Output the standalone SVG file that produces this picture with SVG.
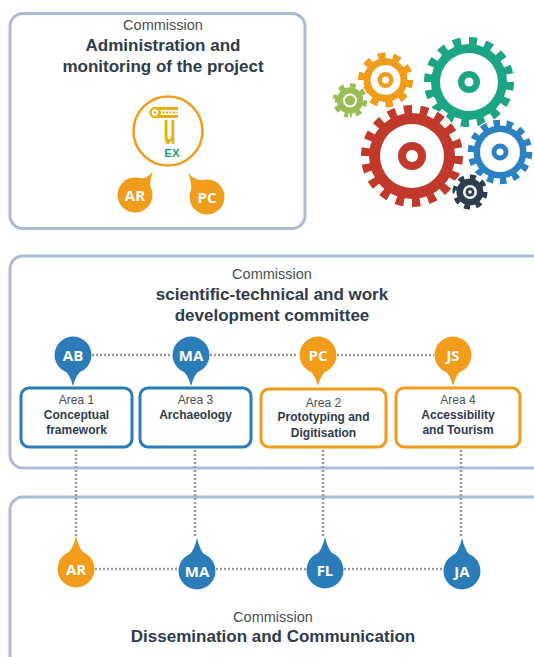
<svg xmlns="http://www.w3.org/2000/svg" width="534" height="657" viewBox="0 0 534 657">
  <style>
    .frame { fill: #ffffff; stroke: #a8bdd4; stroke-width: 3; }
    .kicker { font-family: "Liberation Sans", Arial, sans-serif; font-size: 14.5px; fill: #4a4f55; text-anchor: middle; }
    .title { font-family: "Liberation Sans", Arial, sans-serif; font-size: 17px; font-weight: bold; fill: #2e3b4b; text-anchor: middle; }
    .area { fill: #ffffff; stroke-width: 3; }
    .area.blue { stroke: #2b7cb8; }
    .area.orange { stroke: #f29c1b; }
    .area-num { font-family: "Liberation Sans", Arial, sans-serif; font-size: 12px; fill: #4a4f55; text-anchor: middle; }
    .area-name { font-family: "Liberation Sans", Arial, sans-serif; font-size: 12px; font-weight: bold; fill: #2e3b4b; text-anchor: middle; }
    .pin-blue { fill: #2b7cb8; }
    .pin-orange { fill: #f29c1b; }
    .initials { font-family: "Open Sans", "DejaVu Sans", sans-serif; font-size: 15px; font-weight: bold; fill: #ffffff; text-anchor: middle; }
    .dots { stroke: #9c9c9c; stroke-width: 2.5; stroke-dasharray: 2 2; fill: none; }
    .gear-back { fill: #ffffff; }
  </style>
  <defs>
    <!-- pin spout pointing down / up, drawn relative to the pin centre -->
    <path id="spout-down" d="M-10,14 Q-3,19 0,31 Q3,19 10,14 Z"/>
    <path id="spout-up" d="M-10,-14 Q-3,-19 0,-33 Q3,-19 10,-14 Z"/>
  </defs>

  <!-- ===== Administration commission ===== -->
  <g id="admin-commission">
    <rect class="frame" x="10" y="13.5" width="295" height="215" rx="13"/>
    <text class="kicker" x="163" y="29.5">Commission</text>
    <text class="title" x="163" y="51">Administration and</text>
    <text class="title" x="163" y="72">monitoring of the project</text>
  </g>

  <g id="uex-logo">
    <circle cx="168" cy="131" r="34.5" fill="#ffffff" stroke="#f29c1b" stroke-width="2.5"/>
    <!-- column capital -->
    <rect x="155" y="107" width="23" height="3" fill="#e6b116"/>
    <rect x="155" y="115" width="23" height="3" fill="#e6b116"/>
    <line x1="159" y1="112.5" x2="178" y2="112.5" stroke="#e6b116" stroke-width="2" stroke-dasharray="2 1.5"/>
    <circle cx="155" cy="112.5" r="4.5" fill="#ffffff" stroke="#e6b116" stroke-width="2.5"/>
    <circle cx="155" cy="112.5" r="1.2" fill="#e6b116"/>
    <!-- shaft: tall letter u -->
    <text x="0" y="0" transform="translate(169.5,144) scale(1,2.2)" font-family="'Liberation Sans', Arial, sans-serif" font-size="20" font-weight="bold" fill="#e6b116" text-anchor="middle">u</text>
    <text x="172" y="156.5" font-family="'Liberation Sans', Arial, sans-serif" font-size="11.5" font-weight="bold" fill="#1c9c78" text-anchor="middle">EX</text>
  </g>

  <g id="pin-admin-ar">
    <circle class="pin-orange" cx="135" cy="195" r="17.5"/>
    <path class="pin-orange" d="M137.4,178.2 Q146,180 153,171.5 Q149,182 150.8,188.6 Z"/>
    <text class="initials" x="135" y="200.5">AR</text>
  </g>
  <g id="pin-admin-pc">
    <circle class="pin-orange" cx="207" cy="197" r="17.5"/>
    <path class="pin-orange" d="M204.5,180.2 Q194,181 188,172.5 Q192,183 191.2,190.7 Z"/>
    <text class="initials" x="207" y="202.5">PC</text>
  </g>

  <!-- ===== Gears ===== -->
  <g id="gears">
    <g id="gear-teal">
      <circle class="gear-back" cx="469" cy="82" r="46"/>
      <circle cx="469" cy="82" r="41" fill="none" stroke="#1ba584" stroke-width="8" pathLength="32" stroke-dasharray="1 1"/>
      <circle cx="469" cy="82" r="38" fill="#1ba584"/>
      <circle cx="469" cy="82" r="29" fill="#ffffff"/>
      <circle cx="469" cy="82" r="11" fill="#1ba584"/>
      <circle cx="469" cy="82" r="4.5" fill="#ffffff"/>
    </g>
    <g id="gear-red">
      <circle class="gear-back" cx="412" cy="156" r="52"/>
      <circle cx="412" cy="156" r="46.5" fill="none" stroke="#c0392b" stroke-width="9" pathLength="36" stroke-dasharray="1 1"/>
      <circle cx="412" cy="156" r="43" fill="#c0392b"/>
      <circle cx="412" cy="156" r="32" fill="#ffffff"/>
      <circle cx="412" cy="156" r="14" fill="#c0392b"/>
      <circle cx="412" cy="156" r="6" fill="#ffffff"/>
    </g>
    <g id="gear-blue">
      <circle class="gear-back" cx="500" cy="152" r="33.5"/>
      <circle cx="500" cy="152" r="29" fill="none" stroke="#2b82c0" stroke-width="6.5" pathLength="28" stroke-dasharray="1 1"/>
      <circle cx="500" cy="152" r="26.5" fill="#2b82c0"/>
      <circle cx="500" cy="152" r="20" fill="#ffffff"/>
      <circle cx="500" cy="152" r="8.5" fill="#2b82c0"/>
      <circle cx="500" cy="152" r="3.5" fill="#ffffff"/>
    </g>
    <g id="gear-orange">
      <circle class="gear-back" cx="385.5" cy="80" r="29"/>
      <circle cx="385.5" cy="80" r="24.5" fill="none" stroke="#f29c1b" stroke-width="6" pathLength="20" stroke-dasharray="1 1"/>
      <circle cx="385.5" cy="80" r="22" fill="#f29c1b"/>
      <circle cx="385.5" cy="80" r="15" fill="#ffffff"/>
      <circle cx="385.5" cy="80" r="8" fill="#f29c1b"/>
      <circle cx="385.5" cy="80" r="3.5" fill="#ffffff"/>
    </g>
    <g id="gear-green">
      <circle class="gear-back" cx="350" cy="100.5" r="18.5"/>
      <circle cx="350" cy="100.5" r="15" fill="none" stroke="#9bbd57" stroke-width="4.5" pathLength="16" stroke-dasharray="1 1"/>
      <circle cx="350" cy="100.5" r="13.2" fill="#9bbd57"/>
      <circle cx="350" cy="100.5" r="7" fill="#ffffff"/>
      <circle cx="350" cy="100.5" r="5" fill="#9bbd57"/>
    </g>
    <g id="gear-dark">
      <circle class="gear-back" cx="470" cy="192" r="19"/>
      <circle cx="470" cy="192" r="15.3" fill="none" stroke="#2c3e50" stroke-width="4.5" pathLength="16" stroke-dasharray="1 1"/>
      <circle cx="470" cy="192" r="13.5" fill="#2c3e50"/>
      <circle cx="470" cy="192" r="7" fill="#ffffff"/>
      <circle cx="470" cy="192" r="4.5" fill="#2c3e50"/>
      <circle cx="470" cy="192" r="1.8" fill="#ffffff"/>
    </g>
  </g>

  <!-- ===== Scientific-technical commission ===== -->
  <g id="science-commission">
    <rect class="frame" x="10" y="256" width="560" height="212" rx="13"/>
    <text class="kicker" x="272" y="279">Commission</text>
    <text class="title" x="272" y="299.5">scientific-technical and work</text>
    <text class="title" x="272" y="321">development committee</text>
  </g>

  <!-- ===== Dissemination commission ===== -->
  <g id="dissemination-commission">
    <rect class="frame" x="10" y="497" width="560" height="200" rx="13"/>
    <text class="kicker" x="273" y="622">Commission</text>
    <text class="title" x="273" y="642">Dissemination and Communication</text>
  </g>

  <!-- ===== Connectors ===== -->
  <g id="connectors">
    <line class="dots" x1="92" y1="355" x2="172" y2="355"/>
    <line class="dots" x1="210" y1="355" x2="298" y2="355"/>
    <line class="dots" x1="337" y1="355" x2="434" y2="355"/>
    <line class="dots" x1="76" y1="450" x2="76" y2="536"/>
    <line class="dots" x1="195" y1="450" x2="195" y2="537"/>
    <line class="dots" x1="323" y1="450" x2="323" y2="537"/>
    <line class="dots" x1="461" y1="450" x2="461" y2="538"/>
    <line class="dots" x1="95" y1="569" x2="178" y2="569"/>
    <line class="dots" x1="216" y1="569" x2="306" y2="569"/>
    <line class="dots" x1="344" y1="569" x2="443" y2="569"/>
  </g>

  <!-- ===== Areas ===== -->
  <g id="area-1">
    <rect class="area blue" x="21" y="388" width="111" height="59" rx="8"/>
    <text class="area-num" x="76.5" y="404">Area 1</text>
    <text class="area-name" x="76.5" y="418.5">Conceptual</text>
    <text class="area-name" x="76.5" y="434">framework</text>
  </g>
  <g id="area-3">
    <rect class="area blue" x="140" y="388" width="111" height="59" rx="8"/>
    <text class="area-num" x="195.5" y="404">Area 3</text>
    <text class="area-name" x="195.5" y="418.5">Archaeology</text>
  </g>
  <g id="area-2">
    <rect class="area orange" x="261" y="389" width="125" height="58" rx="8"/>
    <text class="area-num" x="323.5" y="406.5">Area 2</text>
    <text class="area-name" x="323.5" y="421">Prototyping and</text>
    <text class="area-name" x="323.5" y="436.5">Digitisation</text>
  </g>
  <g id="area-4">
    <rect class="area orange" x="396" y="388" width="124" height="59" rx="8"/>
    <text class="area-num" x="458" y="404">Area 4</text>
    <text class="area-name" x="458" y="418.5">Accessibility</text>
    <text class="area-name" x="458" y="434">and Tourism</text>
  </g>

  <!-- ===== Area leads ===== -->
  <g id="pin-ab" transform="translate(73,355)">
    <circle class="pin-blue" r="18.5"/>
    <use href="#spout-down" class="pin-blue"/>
    <text class="initials" y="5.5">AB</text>
  </g>
  <g id="pin-ma-top" transform="translate(191,355)">
    <circle class="pin-blue" r="18.5"/>
    <use href="#spout-down" class="pin-blue"/>
    <text class="initials" y="5.5">MA</text>
  </g>
  <g id="pin-pc" transform="translate(318,355)">
    <circle class="pin-orange" r="18.5"/>
    <use href="#spout-down" class="pin-orange"/>
    <text class="initials" y="5.5">PC</text>
  </g>
  <g id="pin-js" transform="translate(453,355)">
    <circle class="pin-orange" r="18.5"/>
    <use href="#spout-down" class="pin-orange"/>
    <text class="initials" y="5.5">JS</text>
  </g>

  <!-- ===== Dissemination members ===== -->
  <g id="pin-ar" transform="translate(76,569)">
    <circle class="pin-orange" r="18.5"/>
    <use href="#spout-up" class="pin-orange"/>
    <text class="initials" y="5.5">AR</text>
  </g>
  <g id="pin-ma-bottom" transform="translate(197,571)">
    <circle class="pin-blue" r="18.5"/>
    <use href="#spout-up" class="pin-blue"/>
    <text class="initials" y="5.5">MA</text>
  </g>
  <g id="pin-fl" transform="translate(325,570)">
    <circle class="pin-blue" r="18.5"/>
    <use href="#spout-up" class="pin-blue"/>
    <text class="initials" y="5.5">FL</text>
  </g>
  <g id="pin-ja" transform="translate(462,571)">
    <circle class="pin-blue" r="18.5"/>
    <use href="#spout-up" class="pin-blue"/>
    <text class="initials" y="5.5">JA</text>
  </g>
</svg>
